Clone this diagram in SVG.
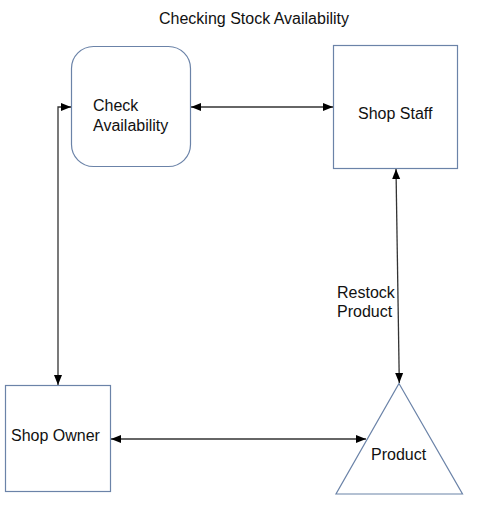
<svg xmlns="http://www.w3.org/2000/svg" width="478" height="516" viewBox="0 0 478 516">
<style>
text{font-family:"Liberation Sans",Arial,sans-serif;font-size:16px;fill:#111}
.n{fill:#fff;stroke:#6b83a8;stroke-width:1.2}
.c{fill:none;stroke:#333;stroke-width:1.3}
</style>
<defs>
<marker id="a" viewBox="0 0 10 10" refX="10" refY="5" markerWidth="10" markerHeight="10" markerUnits="userSpaceOnUse" orient="auto-start-reverse">
<path d="M0,1 L10,5 L0,9 Z" fill="#000"/>
</marker>
</defs>
<rect width="478" height="516" fill="#fff"/>
<text x="254" y="24" text-anchor="middle">Checking Stock Availability</text>
<g id="check">
<rect class="n" x="71.5" y="46.5" width="119" height="120" rx="22"/>
<text x="93" y="111">Check</text>
<text x="93" y="131">Availability</text>
</g>
<g id="staff">
<rect class="n" x="333.5" y="45.5" width="124" height="123"/>
<text x="358" y="119">Shop Staff</text>
</g>
<g id="owner">
<rect class="n" x="5.5" y="385.5" width="105" height="106"/>
<text x="11" y="441">Shop Owner</text>
</g>
<g id="product">
<path class="n" d="M399,383.5 L462.5,494 L336,494 Z"/>
<text x="371" y="460">Product</text>
</g>
<g id="connectors">
<path class="c" d="M191,107 L333,107" marker-start="url(#a)" marker-end="url(#a)"/>
<path class="c" d="M58,385 L58,107 L71,107" marker-start="url(#a)" marker-end="url(#a)"/>
<path class="c" d="M111,439 L366,439" marker-start="url(#a)" marker-end="url(#a)"/>
<path class="c" d="M396,169 L399.3,383" marker-start="url(#a)" marker-end="url(#a)"/>
<text x="337" y="298">Restock</text>
<text x="337" y="317">Product</text>
</g>
</svg>
